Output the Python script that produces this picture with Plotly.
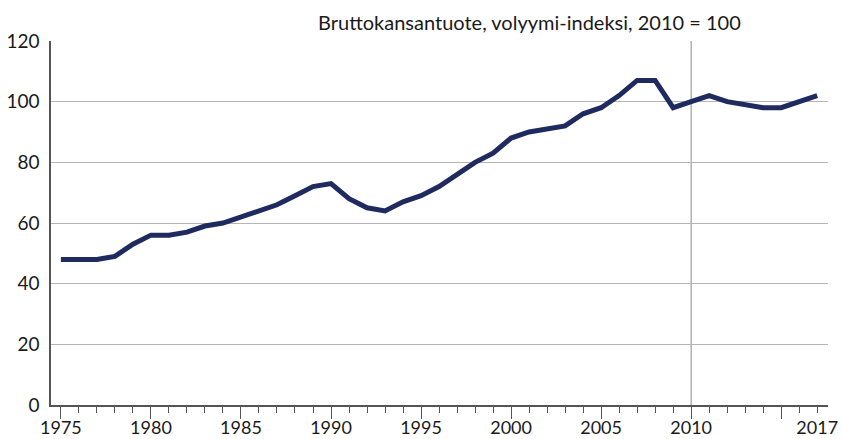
import plotly.graph_objects as go

years = list(range(1975, 2018))
gdp_index = [48, 48, 48, 49, 53, 56, 56, 57, 59, 60, 62, 64, 66, 69, 72, 73,
             68, 65, 64, 67, 69, 72, 76, 80, 83, 88, 90, 91, 92, 96, 98, 102,
             107, 107, 98, 100, 102, 100, 99, 98, 98, 100, 102]

x_tickvals = [1975, 1980, 1985, 1990, 1995, 2000, 2005, 2010, 2015, 2017]
x_ticktext = ["1975", "1980", "1985", "1990", "1995", "2000", "2005", "2010", "", "2017"]
major_tick_years = [1975, 1980, 1985, 1990, 1995, 2000, 2005, 2010, 2015]
y_tickvals = [0, 20, 40, 60, 80, 100, 120]
title_text = "Bruttokansantuote, volyymi-indeksi, 2010 = 100"

x_range = [1974.45, 2017.6]

fig = go.Figure()
fig.add_trace(go.Scatter(
    x=years, y=gdp_index, mode="lines",
    line=dict(color="#1f2a5e", width=5),
    hoverinfo="x+y", showlegend=False))

fig.add_shape(type="line", xref="x", yref="paper", x0=2010, x1=2010, y0=0, y1=1,
              line=dict(color="#8c8c8c", width=1), layer="below")

fig.update_layout(
    width=843, height=439,
    margin=dict(l=51, r=15, t=41, b=34, autoexpand=False),
    paper_bgcolor="white", plot_bgcolor="white",
    font=dict(family="Lato, 'Open Sans', sans-serif", size=18, color="#1a1a1a"),
    annotations=[dict(text=title_text, x=0.616, y=1.0, xref="paper", yref="paper",
                      xanchor="center", yanchor="bottom", yshift=5, showarrow=False,
                      font=dict(size=20, color="#1a1a1a"))],
    xaxis=dict(
        range=x_range, tickvals=x_tickvals, ticktext=x_ticktext,
        ticks="outside", ticklen=6, tickcolor="#555555", tickwidth=1,
        minor=dict(dtick=1, tick0=1975, ticks="outside", ticklen=6, tickcolor="#555555", tickwidth=1),
        showgrid=False, zeroline=False, automargin=False,
        showline=True, linecolor="#555555", linewidth=1.5,
        tickfont=dict(size=18),
    ),
    xaxis2=dict(
        range=x_range, overlaying="x", side="bottom", anchor="y",
        tickvals=major_tick_years, showticklabels=False,
        ticks="outside", ticklen=13, tickcolor="#555555", tickwidth=1,
        showgrid=False, zeroline=False, showline=False, automargin=False,
    ),
    yaxis=dict(
        range=[0, 120], tickvals=y_tickvals,
        ticks="outside", ticklen=6, tickcolor="rgba(0,0,0,0)",
        showgrid=True, gridcolor="#b5b5b5", gridwidth=1,
        zeroline=False, showline=True, linecolor="#555555", linewidth=1.5,
        automargin=False, tickfont=dict(size=19),
    ),
)
# invisible helper trace so the secondary axis (major ticks) is drawn
fig.add_trace(go.Scatter(x=[x_range[0]], y=[None], xaxis="x2", yaxis="y",
                         mode="lines", showlegend=False, hoverinfo="skip"))

fig.write_html("out.html", config={"displayModeBar": False},
               post_script="document.body.style.margin='0';document.body.style.overflow='hidden';")
